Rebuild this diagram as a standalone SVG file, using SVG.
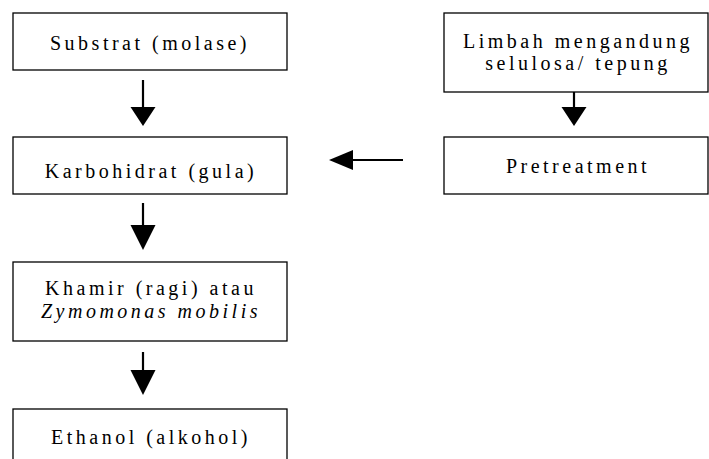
<svg xmlns="http://www.w3.org/2000/svg" width="709" height="459" viewBox="0 0 709 459">
<style>
.box{fill:#fff;stroke:#000;stroke-width:1.3}
.t{font-family:"Liberation Serif",serif;font-size:20px;letter-spacing:3.5px;text-anchor:middle;fill:#000}
.ln{stroke:#000;stroke-width:2.2;fill:none}
.hd{fill:#000}
</style>
<rect width="709" height="459" fill="#fff"/>
<g id="n1"><rect class="box" x="13" y="13" width="274" height="57"/><text class="t" x="150" y="50">Substrat (molase)</text></g>
<g id="n2"><rect class="box" x="13" y="137" width="274" height="57"/><text class="t" x="151" y="178">Karbohidrat (gula)</text></g>
<g id="n3"><rect class="box" x="13" y="262" width="274" height="79"/><text class="t" x="151" y="295">Khamir (ragi) atau</text><text class="t" x="151" y="318" font-style="italic">Zymomonas mobilis</text></g>
<g id="n4"><rect class="box" x="13" y="409" width="274" height="60"/><text class="t" x="151" y="444">Ethanol (alkohol)</text></g>
<g id="n5"><rect class="box" x="444" y="13" width="264" height="79"/><text class="t" x="578" y="48">Limbah mengandung</text><text class="t" x="578" y="70">selulosa/ tepung</text></g>
<g id="n6"><rect class="box" x="444" y="137" width="264" height="57"/><text class="t" x="578" y="173">Pretreatment</text></g>
<g id="connectors">
<line class="ln" x1="143" y1="80" x2="143" y2="108"/><polygon class="hd" points="130.5,107 155.5,107 143,126"/>
<line class="ln" x1="143" y1="203" x2="143" y2="226"/><polygon class="hd" points="130.5,225 155.5,225 143,250"/>
<line class="ln" x1="143" y1="352" x2="143" y2="371"/><polygon class="hd" points="130.5,370 155.5,370 143,395"/>
<line class="ln" x1="574" y1="92" x2="574" y2="108"/><polygon class="hd" points="561.5,107 586.5,107 574,126"/>
<line class="ln" x1="403" y1="160" x2="352" y2="160"/><polygon class="hd" points="353,150 353,170 329,160"/>
</g>
</svg>
